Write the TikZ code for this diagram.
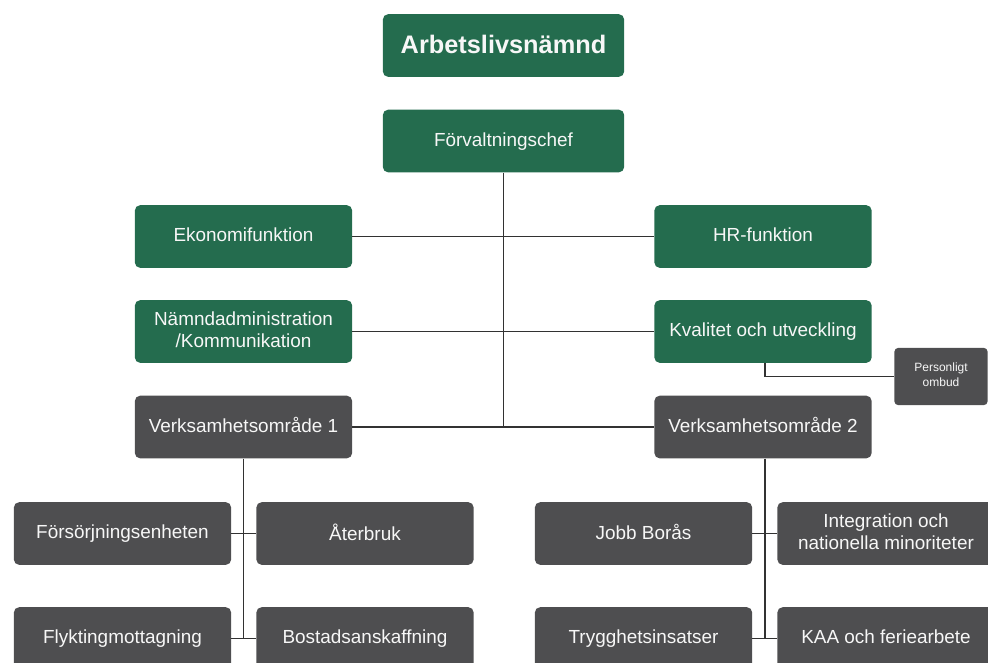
\documentclass[tikz,border=0pt]{standalone}
\usepackage{fontspec}
\setmainfont{Liberation Sans}
\definecolor{orggreen}{RGB}{36,108,78}
\definecolor{orggray}{RGB}{78,78,80}
\definecolor{orgline}{RGB}{50,50,50}
\begin{document}
\begin{tikzpicture}[x=0.75pt, y=-0.75pt,
    box/.style={rounded corners=4pt, text=white!94!gray, align=center,
        minimum width=163pt, minimum height=47pt, inner sep=2pt,
        text depth=0.25em, font=\fontsize{14.2}{16.5}\selectfont},
    greenbox/.style={box, fill=orggreen},
    graybox/.style={box, fill=orggray},
    link/.style={draw=orgline, line width=1.3pt}]
    \clip (0,0) rectangle (988,662);
    \node[greenbox, minimum width=181pt, font=\fontsize{19}{22}\bfseries] (nmd) at (503.5,45.5) {Arbetslivsnämnd};
    \node[greenbox, minimum width=181pt] (fc) at (503.5,141) {Förvaltningschef};
    \node[greenbox] (eko) at (243.5,236.5) {Ekonomifunktion};
    \node[greenbox] (hr) at (763,236.5) {HR-funktion};
    \node[greenbox] (adm) at (243.5,331.5) {Nämndadministration\\/Kommunikation};
    \node[greenbox] (kval) at (763,331.5) {Kvalitet och utveckling};
    \node[graybox, minimum width=70pt, minimum height=43pt, rounded corners=3pt, font=\fontsize{9}{11}\selectfont] (po) at (941,376.5) {Personligt\\ombud};
    \node[graybox] (vo1) at (243.5,427) {Verksamhetsområde 1};
    \node[graybox] (vo2) at (763,427) {Verksamhetsområde 2};
    \node[graybox] (fors) at (122.5,533.5) {Försörjningsenheten};
    \node[graybox] (ater) at (365,533.5) {Återbruk};
    \node[graybox] (flykt) at (122.5,638.5) {Flyktingmottagning};
    \node[graybox] (bost) at (365,638.5) {Bostadsanskaffning};
    \node[graybox] (jobb) at (643.5,533.5) {Jobb Borås};
    \node[graybox] (integ) at (886,533.5) {Integration och\\nationella minoriteter};
    \node[graybox] (tryg) at (643.5,638.5) {Trygghetsinsatser};
    \node[graybox] (kaa) at (886,638.5) {KAA och feriearbete};

    \draw[link] (fc.south) -- (fc.south |- vo1.east);
    \draw[link] (eko.east) -- (hr.west);
    \draw[link] (adm.east) -- (kval.west);
    \draw[link] (vo1.east) -- (vo2.west);
    \draw[link] ([xshift=1.5pt]kval.south) |- (po.west);
    \draw[link] (vo1.south) -- (vo1.south |- flykt.east);
    \draw[link] (fors.east) -- (ater.west);
    \draw[link] (flykt.east) -- (bost.west);
    \draw[link] ([xshift=1.5pt]vo2.south) -- ([xshift=1.5pt]vo2.south |- tryg.east);
    \draw[link] (jobb.east) -- (integ.west);
    \draw[link] (tryg.east) -- (kaa.west);
\end{tikzpicture}
\end{document}
